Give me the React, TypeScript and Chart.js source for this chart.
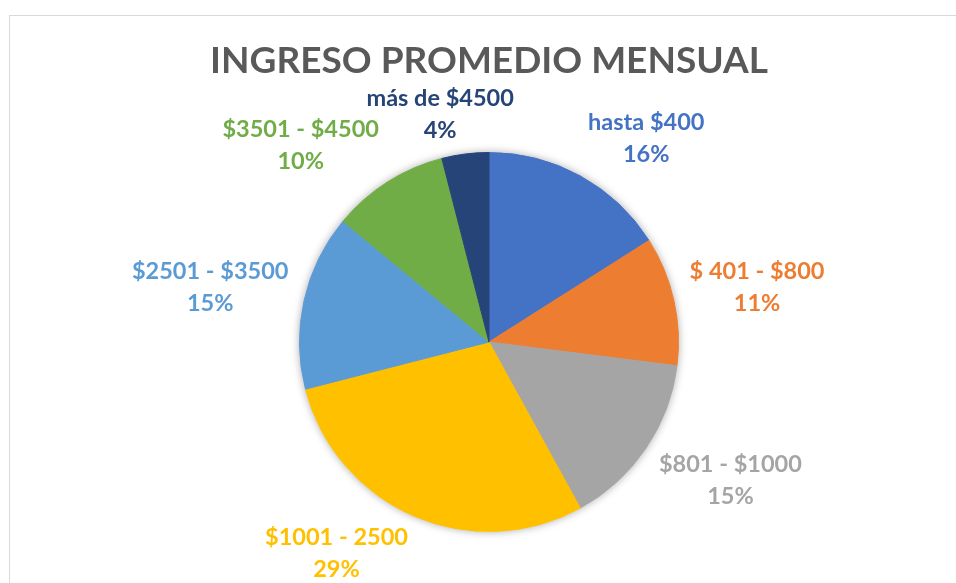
import React, { useEffect, useRef } from "react";
import { Chart, registerables } from "chart.js";

Chart.register(...registerables);

const TITLE = "INGRESO PROMEDIO MENSUAL";
const CATEGORIES = [
  "hasta $400",
  "$ 401 - $800",
  "$801 - $1000",
  "$1001 - 2500",
  "$2501 - $3500",
  "$3501 - $4500",
  "más de $4500",
];
const VALUES = [16, 11, 15, 29, 15, 10, 4];
const COLORS = ["#4472C4", "#ED7D31", "#A5A5A5", "#FFC000", "#5B9BD5", "#70AD47", "#264478"];

const FONT_FAMILY = "Lato, 'Open Sans', sans-serif";

const shadowPlugin = {
  id: "pieShadow",
  beforeDatasetsDraw(chart: any) {
    const meta = chart.getDatasetMeta(0);
    const arc = meta.data[0];
    if (!arc) return;
    const { x, y, outerRadius } = arc.getProps(["x", "y", "outerRadius"], true);
    const ctx = chart.ctx;
    ctx.save();
    ctx.shadowColor = "rgba(0,0,0,0.35)";
    ctx.shadowBlur = 9;
    ctx.shadowOffsetX = 0;
    ctx.shadowOffsetY = 0;
    ctx.fillStyle = "#ffffff";
    ctx.beginPath();
    ctx.arc(x, y, outerRadius, 0, Math.PI * 2);
    ctx.fill();
    ctx.restore();
  },
};

const labelPlugin = {
  id: "outsideLabels",
  afterDatasetsDraw(chart: any) {
    const ctx = chart.ctx;
    const meta = chart.getDatasetMeta(0);
    const total = VALUES.reduce((a, b) => a + b, 0);
    const fontSize = 23.5;
    const lineH = 32;
    ctx.save();
    ctx.font = `bold ${fontSize}px ${FONT_FAMILY}`;
    ctx.textAlign = "center";
    ctx.textBaseline = "middle";
    meta.data.forEach((arc: any, i: number) => {
      const { x, y, startAngle, endAngle, outerRadius } = arc.getProps(
        ["x", "y", "startAngle", "endAngle", "outerRadius"],
        true
      );
      const mid = (startAngle + endAngle) / 2;
      const ux = Math.cos(mid);
      const uy = Math.sin(mid);
      const pad = 16;
      const px = x + (outerRadius + pad) * ux;
      const py = y + (outerRadius + pad) * uy;
      const pct = Math.round((VALUES[i] / total) * 100) + "%";
      const lines = [CATEGORIES[i], pct];
      const w = Math.max(...lines.map((l) => ctx.measureText(l).width));
      const h = lineH * 1.45;
      const cx = px + Math.sign(ux) * (w / 2) * Math.min(1, Math.abs(ux) * 2.5);
      const cy = py + Math.sign(uy) * (h / 2) * Math.min(1, Math.abs(uy) * 2);
      ctx.fillStyle = COLORS[i];
      ctx.fillText(lines[0], cx, cy - lineH / 2);
      ctx.fillText(lines[1], cx, cy + lineH / 2);
    });
    ctx.restore();
  },
};

export default function App() {
  const canvasRef = useRef<HTMLCanvasElement | null>(null);

  useEffect(() => {
    document.body.style.margin = "0";
    const canvas = canvasRef.current;
    if (!canvas) return;
    const chart = new Chart(canvas, {
      type: "pie",
      data: {
        labels: CATEGORIES,
        datasets: [
          {
            data: VALUES,
            backgroundColor: COLORS,
            borderColor: COLORS,
            borderWidth: 1,
          },
        ],
      },
      options: {
        responsive: false,
        animation: false,
        layout: { padding: { top: 0, left: 22, right: 0, bottom: 51 } },
        plugins: {
          legend: { display: false },
          tooltip: { enabled: false },
          title: {
            display: true,
            text: TITLE,
            color: "#595959",
            font: { family: FONT_FAMILY, size: 37, weight: "bold", lineHeight: 1.2 },
            padding: { top: 39, bottom: 68.6 },
          },
        },
      },
      plugins: [shadowPlugin, labelPlugin],
    });
    return () => chart.destroy();
  }, []);

  return (
    <div style={{ position: "relative", width: 956, height: 583, overflow: "hidden", background: "#fff" }}>
      <div
        style={{
          position: "absolute",
          left: 9,
          top: 15,
          width: 1000,
          height: 700,
          border: "1px solid #d9d9d9",
          boxSizing: "border-box",
        }}
      />
      <canvas
        ref={canvasRef}
        width={956}
        height={583}
        style={{ position: "absolute", left: 0, top: 0, width: 956, height: 583 }}
      />
    </div>
  );
}
